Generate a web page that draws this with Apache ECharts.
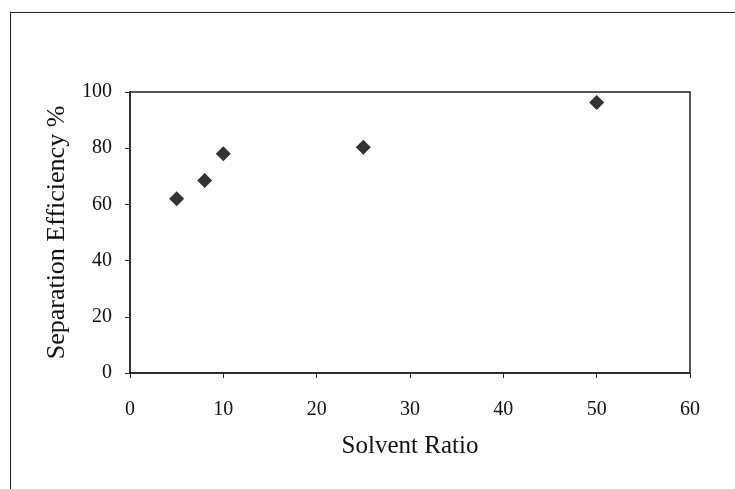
<!DOCTYPE html>
<html>
<head>
<meta charset="utf-8">
<script src="https://cdn.jsdelivr.net/npm/echarts@6/dist/echarts.min.js"></script>
<style>
html,body{margin:0;padding:0;background:#fff;}
#frame{position:absolute;left:10px;top:12px;width:740px;height:490px;border-left:1.5px solid #222;border-top:1.5px solid #222;box-sizing:border-box;}
#c{position:absolute;left:0;top:0;width:735px;height:489px;}
</style>
</head>
<body>
<div id="frame"></div>
<div id="c"></div>
<script>
const solventRatio = [5, 8, 10, 25, 50];
const efficiency = [62, 68.5, 78, 80.3, 96.3];
const xTicks = [0, 10, 20, 30, 40, 50, 60];
const yTicks = [0, 20, 40, 60, 80, 100];

const chart = echarts.init(document.getElementById('c'));
const font = 'Liberation Serif, Times New Roman, serif';
chart.setOption({
  animation: false,
  backgroundColor: 'transparent',
  grid: {left: 130, top: 92, width: 560, height: 281, show: true, borderColor: '#222', borderWidth: 1.5, backgroundColor: 'transparent'},
  xAxis: {
    type: 'value', min: 0, max: 60, interval: 10,
    name: 'Solvent Ratio', nameLocation: 'middle', nameGap: 61,
    nameTextStyle: {fontFamily: font, fontSize: 25, color: '#111'},
    axisLine: {show: true, onZero: false, lineStyle: {color: '#222', width: 1.5}},
    axisTick: {show: true, inside: false, length: 5, lineStyle: {color: '#222'}},
    axisLabel: {fontFamily: font, fontSize: 20, color: '#111', margin: 27},
    splitLine: {show: false}
  },
  yAxis: {
    type: 'value', min: 0, max: 100, interval: 20,
    name: 'Separation Efficiency %', nameLocation: 'middle', nameGap: 60, nameRotate: 90,
    nameTextStyle: {fontFamily: font, fontSize: 26, color: '#111'},
    axisLine: {show: true, lineStyle: {color: '#222', width: 1.5}},
    axisTick: {show: true, inside: false, length: 5, lineStyle: {color: '#222'}},
    axisLabel: {fontFamily: font, fontSize: 20, color: '#111', margin: 18},
    splitLine: {show: false}
  },
  series: [{
    type: 'scatter',
    symbol: 'diamond',
    symbolSize: 15,
    itemStyle: {color: '#000'},
    data: solventRatio.map((x, i) => [x, efficiency[i]])
  }]
});
</script>
</body>
</html>
